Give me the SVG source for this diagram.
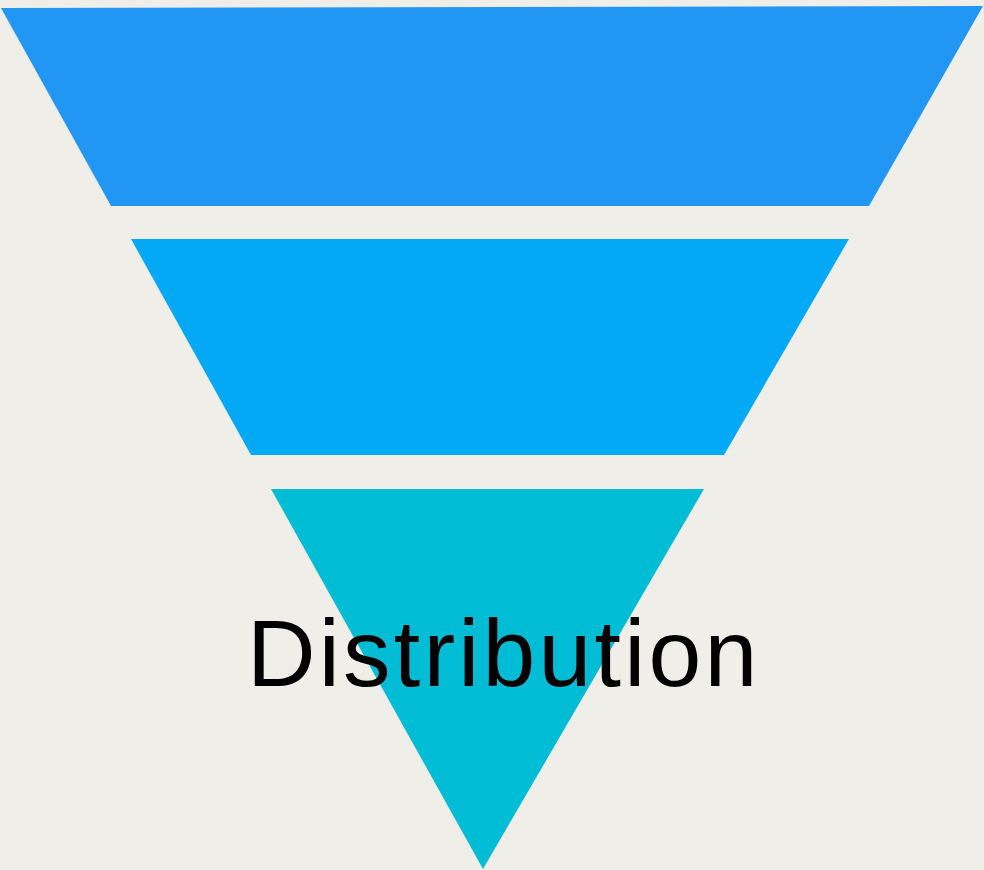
<svg xmlns="http://www.w3.org/2000/svg" width="984" height="870" viewBox="0 0 984 870">
  <style>
    .label { font-family: "Liberation Sans", Arial, sans-serif; font-size: 95px; fill: #000000; }
  </style>
  <rect width="984" height="870" fill="#EFEEE8"/>
  <g id="stage-1">
    <polygon points="1,8 983,6 869,206 111,206" fill="#2196F3"/>
  </g>
  <g id="stage-2">
    <polygon points="131,239 849,239 724,455 251,455" fill="#03A9F4"/>
  </g>
  <g id="stage-3">
    <polygon points="271,489 704,489 483,869" fill="#00BCD4"/>
    <text class="label" x="247" y="686" letter-spacing="3.2">Distribution</text>
  </g>
  <g id="connectors"/>
</svg>
